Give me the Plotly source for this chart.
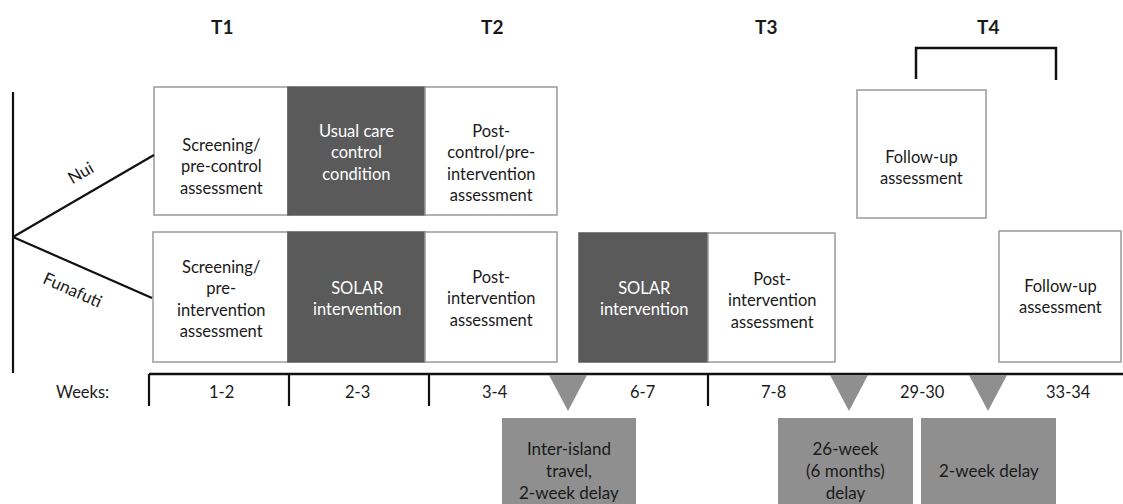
import plotly.graph_objects as go

# ---------------- data (labels) ----------------
time_points = ["T1", "T2", "T3", "T4"]
islands = ["Nui", "Funafuti"]
nui_boxes = [
    "Screening/<br>pre-control<br>assessment",
    "Usual care<br>control<br>condition",
    "Post-<br>control/pre-<br>intervention<br>assessment",
    "Follow-up<br>assessment",
]
funafuti_boxes = [
    "Screening/<br>pre-<br>intervention<br>assessment",
    "SOLAR<br>intervention",
    "Post-<br>intervention<br>assessment",
    "SOLAR<br>intervention",
    "Post-<br>intervention<br>assessment",
    "Follow-up<br>assessment",
]
week_labels = ["1-2", "2-3", "3-4", "6-7", "7-8", "29-30", "33-34"]
delay_labels = [
    "Inter-island<br>travel,<br>2-week delay",
    "26-week<br>(6 months)<br>delay",
    "2-week delay",
]

# ---------------- layout geometry (pixel space) ----------------
FONT = "Lato, Carlito, Calibri, sans-serif"
DARK = "#5a5a5a"
MID = "#8f8f8f"
BORDER = "#9a9a9a"
TXT = "#1a1a1a"

# boxes: (x0, x1, y0, y1, dark, text_y)
nui_geom = [
    (154, 288, 87, 215, False, 166),
    (288, 425, 87, 215, True, 152),
    (425, 557, 87, 215, False, 163),
    (857, 986, 90, 218, False, 167),
]
fun_geom = [
    (153, 288, 232, 362, False, 299),
    (288, 425, 232, 362, True, 298),
    (425, 557, 232, 362, False, 298),
    (579, 708, 233, 362, True, 298),
    (708, 835, 233, 362, False, 300),
    (999, 1121, 231, 362, False, 296),
]
title_x = [222, 492, 766, 988]
week_x = [221, 357, 495, 642, 773, 922, 1068]
tick_x = [149, 289, 429, 708]
tri_x = [568, 849, 988]
delay_geom = [(502, 636), (778, 913), (921, 1056)]

fig = go.Figure()
shapes = []
annotations = []

def rect(x0, x1, y0, y1, dark):
    shapes.append(dict(
        type="rect", xref="x", yref="y", x0=x0, x1=x1, y0=y0, y1=y1,
        fillcolor=DARK if dark else "white",
        line=dict(color=DARK if dark else BORDER, width=1.5),
        layer="below",
    ))

def text(x, y, s, size=16.5, color=TXT, bold=False, angle=0):
    annotations.append(dict(
        x=x, y=y, xref="x", yref="y", text=f"<b>{s}</b>" if bold else s,
        showarrow=False, textangle=angle, align="center",
        font=dict(family=FONT, size=size, color=color),
        xanchor="center", yanchor="middle",
    ))

def line(x0, y0, x1, y1, width=2.2, color="#111111"):
    shapes.append(dict(type="line", xref="x", yref="y", x0=x0, y0=y0,
                       x1=x1, y1=y1, line=dict(color=color, width=width)))

# titles
for lab, x in zip(time_points, title_x):
    text(x, 26, lab, size=19, bold=True)

# bracket over T4
shapes.append(dict(type="path", xref="x", yref="y",
                   path="M 916 79 L 916 48 L 1056 48 L 1056 80",
                   line=dict(color="#111111", width=2.5)))

# tree lines
line(13, 92, 13, 373)
line(13, 237, 154, 155)
line(13, 237, 152, 298)
text(80, 172, islands[0], size=17, angle=-30)
text(73, 289, islands[1], size=17, angle=24)

# boxes
for lab, (x0, x1, y0, y1, dark, ty) in zip(nui_boxes, nui_geom):
    rect(x0, x1, y0, y1, dark)
    text((x0 + x1) / 2, ty, lab, color="white" if dark else TXT)
for lab, (x0, x1, y0, y1, dark, ty) in zip(funafuti_boxes, fun_geom):
    rect(x0, x1, y0, y1, dark)
    text((x0 + x1) / 2, ty, lab, color="white" if dark else TXT)

# timeline
line(149, 374, 1123, 374, width=2.5)
for x in tick_x:
    line(x, 374, x, 406, width=2.2)
text(82, 392, "Weeks:", size=16.5)
for lab, x in zip(week_labels, week_x):
    text(x, 392, lab, size=16.5)

# triangles
for x in tri_x:
    shapes.append(dict(type="path", xref="x", yref="y",
                       path=f"M {x-19} 375 L {x+19} 375 L {x} 411 Z",
                       fillcolor=MID, line=dict(color=MID, width=0)))

# delay boxes
for lab, (x0, x1) in zip(delay_labels, delay_geom):
    shapes.append(dict(type="rect", xref="x", yref="y", x0=x0, x1=x1,
                       y0=418, y1=510, fillcolor=MID,
                       line=dict(color=MID, width=0)))
    text((x0 + x1) / 2, 470, lab, size=17)

fig.update_layout(
    width=1123, height=504,
    margin=dict(l=0, r=0, t=0, b=0),
    paper_bgcolor="white", plot_bgcolor="white",
    xaxis=dict(range=[0, 1123], visible=False, fixedrange=True),
    yaxis=dict(range=[504, 0], visible=False, fixedrange=True),
    shapes=shapes, annotations=annotations, showlegend=False,
)
fig.write_html(
    "out.html",
    config={"displayModeBar": False},
    post_script="document.body.style.margin='0';document.body.style.overflow='hidden';",
)
